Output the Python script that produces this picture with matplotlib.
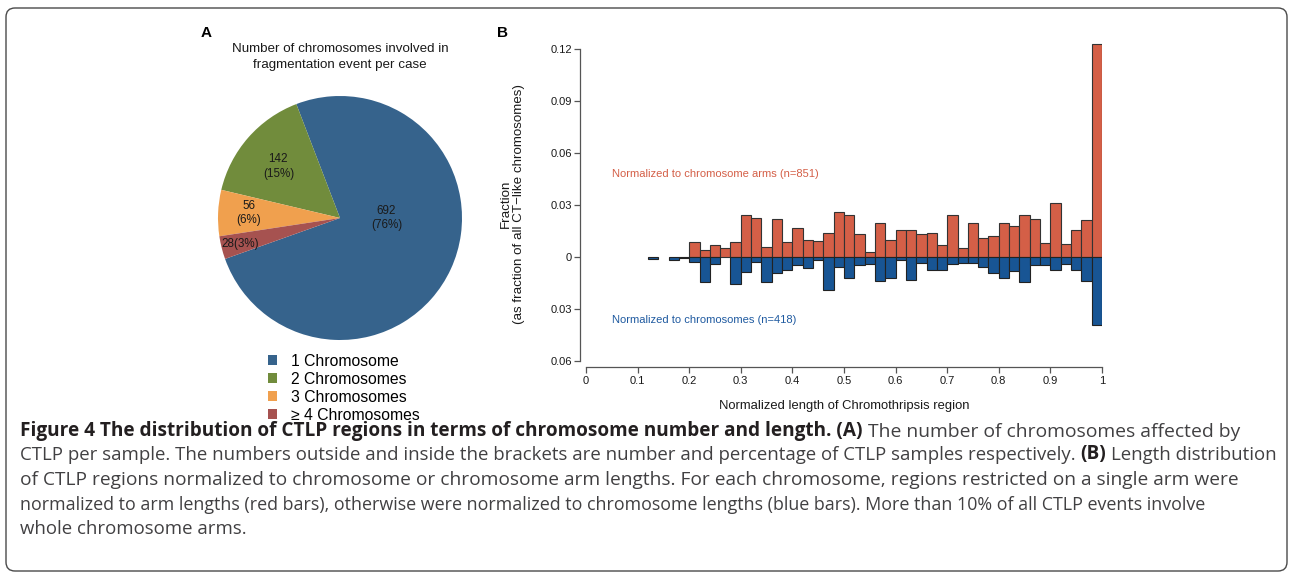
import matplotlib
matplotlib.use('Agg')
import matplotlib.pyplot as plt
import numpy as np
from matplotlib.patches import FancyBboxPatch
from matplotlib.transforms import IdentityTransform
from matplotlib.text import Annotation

plt.rcParams['font.family'] = ['Liberation Sans', 'DejaVu Sans']

# ---------------- Panel A data ----------------
pie_labels = ['1 Chromosome', '2 Chromosomes', '3 Chromosomes', '\u2265 4 Chromosomes']
pie_counts = [692, 142, 56, 28]
pie_pcts = [76, 15, 6, 3]
pie_colors = ['#36638C', '#718C3C', '#F0A04E', '#A65250']

# ---------------- Panel B data ----------------
bin_starts = [0.12, 0.14, 0.16, 0.18,
              0.20, 0.22, 0.24, 0.26, 0.28,
              0.30, 0.32, 0.34, 0.36, 0.38,
              0.40, 0.42, 0.44, 0.46, 0.48,
              0.50, 0.52, 0.54, 0.56, 0.58,
              0.60, 0.62, 0.64, 0.66, 0.68,
              0.70, 0.72, 0.74, 0.76, 0.78,
              0.80, 0.82, 0.84, 0.86, 0.88,
              0.90, 0.92, 0.94, 0.96, 0.98]
arm_frac = [0, 0, 0, 0,
            0.0089, 0.0043, 0.0068, 0.0052, 0.0089,
            0.0242, 0.0225, 0.0058, 0.0217, 0.0089,
            0.0169, 0.0097, 0.0091, 0.0137, 0.0258,
            0.0242, 0.0132, 0.0029, 0.0194, 0.0099,
            0.0153, 0.0153, 0.0130, 0.0140, 0.0068,
            0.0242, 0.0052, 0.0194, 0.0107, 0.0122,
            0.0194, 0.0180, 0.0242, 0.0219, 0.0083,
            0.0312, 0.0076, 0.0153, 0.0211, 0.1230]
chrom_frac = [0.0010, 0, 0.0015, 0.0008,
              0.0027, 0.0144, 0.0041, 0, 0.0155,
              0.0084, 0.0026, 0.0146, 0.0090, 0.0076,
              0.0047, 0.0066, 0.0020, 0.0189, 0.0058,
              0.0124, 0.0049, 0.0041, 0.0140, 0.0124,
              0.0017, 0.0132, 0.0033, 0.0076, 0.0076,
              0.0041, 0.0033, 0.0033, 0.0058, 0.0090,
              0.0124, 0.0082, 0.0146, 0.0049, 0.0049,
              0.0076, 0.0041, 0.0076, 0.0140, 0.0392]
ytick_vals = [-0.06, -0.03, 0, 0.03, 0.06, 0.09, 0.12]
ytick_labels = ['0.06', '0.03', '0', '0.03', '0.06', '0.09', '0.12']
xtick_vals = [0, 0.1, 0.2, 0.3, 0.4, 0.5, 0.6, 0.7, 0.8, 0.9, 1.0]
xtick_labels = ['0', '0.1', '0.2', '0.3', '0.4', '0.5', '0.6', '0.7', '0.8', '0.9', '1']

RED = '#D45F47'
BLUE = '#185594'

W, H = 1292, 576
fig = plt.figure(figsize=(W / 100, H / 100), dpi=100)
fig.patch.set_facecolor('white')

# frame around the whole figure
frame = FancyBboxPatch((6, 5), 1281, 563, boxstyle='round,pad=0,rounding_size=9',
                       transform=IdentityTransform(), facecolor='none',
                       edgecolor='#4a4a4a', linewidth=1.0)
fig.patches.append(frame)

# ---------------- Panel A ----------------
cx, cy, r = 340, 218, 122
ax_pie = fig.add_axes([(cx - r) / W, 1 - (cy + r) / H, 2 * r / W, 2 * r / H])
wedges, _ = ax_pie.pie(pie_counts, colors=pie_colors, startangle=199.6,
                       counterclock=True, wedgeprops=dict(linewidth=0))
ax_pie.set_xlim(-1, 1)
ax_pie.set_ylim(-1, 1)
label_pos = [(0.38, 0.0), (-0.505, 0.423), (-0.75, 0.04), (-0.82, -0.21)]
for i, (cnt, pct) in enumerate(zip(pie_counts, pie_pcts)):
    txt = f'{cnt}({pct}%)' if i == 3 else f'{cnt}\n({pct}%)'
    ax_pie.text(label_pos[i][0], label_pos[i][1], txt, ha='center', va='center',
                fontsize=8.4, color='#1a1a1a', linespacing=1.25)

fig.text(cx / W, 1 - 57 / H, 'Number of chromosomes involved in\nfragmentation event per case',
         ha='center', va='center', fontsize=9.6, linespacing=1.5, color='#1a1a1a')
fig.text(206 / W, 1 - 33 / H, 'A', fontsize=11, fontweight='bold', ha='center', va='center')
fig.text(502 / W, 1 - 33 / H, 'B', fontsize=11, fontweight='bold', ha='center', va='center')

fig.legend(wedges, pie_labels, loc='upper left', bbox_to_anchor=(268 / W, 1 - 353.5 / H),
           frameon=False, fontsize=11.3, handlelength=0.6, handleheight=0.6,
           handletextpad=0.85, labelspacing=0.2, borderpad=0, borderaxespad=0)

# ---------------- Panel B ----------------
y_top = 0.125
px_per_unit = (361 - 49) / 0.18
top_px = 49 - (y_top - 0.12) * px_per_unit
ax = fig.add_axes([586 / W, 1 - 361 / H, 516 / W, (361 - top_px) / H])
arm = np.array(arm_frac)
chrom = np.array(chrom_frac)
ax.bar(bin_starts, arm, width=0.02, align='edge', color=RED, edgecolor='#333333',
       linewidth=[0.8 if v > 0 else 0 for v in arm])
ax.bar(bin_starts, -chrom, width=0.02, align='edge', color=BLUE, edgecolor='#222222',
       linewidth=[0.8 if v > 0 else 0 for v in chrom])
ax.set_xlim(0, 1)
ax.set_ylim(-0.06, y_top)
for s in ['top', 'right']:
    ax.spines[s].set_visible(False)
ax.spines['left'].set_position(('outward', 4.5))
ax.spines['bottom'].set_position(('outward', 4))
ax.spines['left'].set_bounds(-0.06, 0.12)
for s in ['left', 'bottom']:
    ax.spines[s].set_color('#555555')
    ax.spines[s].set_linewidth(0.9)
ax.set_yticks(ytick_vals)
ax.set_yticklabels(ytick_labels)
ax.set_xticks(xtick_vals)
ax.set_xticklabels(xtick_labels)
ax.tick_params(axis='both', length=4, width=0.9, color='#555555', labelsize=8,
               labelcolor='#1a1a1a', pad=2.5)
ax.tick_params(axis='y', pad=1.5)
ax.set_xlabel('Normalized length of Chromothripsis region', fontsize=9.4, color='#1a1a1a', va='center')
ax.xaxis.set_label_coords(0.5, -0.14)
ax.set_ylabel('Fraction\n(as fraction of all CT\u2212like chromosomes)', fontsize=9.6,
              color='#1a1a1a', va='center', linespacing=1.15)
ax.yaxis.set_label_coords(-0.142, 0.49)
ax.text(0.05, 0.048, 'Normalized to chromosome arms (n=851)', color=RED, fontsize=8,
        va='center', ha='left')
ax.text(0.05, -0.0365, 'Normalized to chromosomes (n=418)', color='#1F5AA0', fontsize=8,
        va='center', ha='left')

# ---------------- Caption ----------------
caption_lines = [
    [("Figure 4 The distribution of CTLP regions in terms of chromosome number and length. (A)", True),
     ("The number of chromosomes affected by", False)],
    [("CTLP per sample. The numbers outside and inside the brackets are number and percentage of CTLP samples respectively.", False),
     ("(B)", True), ("Length distribution", False)],
    [("of CTLP regions normalized to chromosome or chromosome arm lengths. For each chromosome, regions restricted on a single arm were", False)],
    [("normalized to arm lengths (red bars), otherwise were normalized to chromosome lengths (blue bars). More than 10% of all CTLP events involve", False)],
    [("whole chromosome arms.", False)],
]
line_widths = [1225, 1256, 1210, 1187, 227]   # layout targets in pixels
cap_font = ['Open Sans', 'DejaVu Sans']
size_bold = 11.3
size_reg = [11.3] * len(caption_lines)
lines_art = []
for li, pieces in enumerate(caption_lines):
    base_y = 436 + li * 24.5
    prev = None
    arts = []
    for txt, bold in pieces:
        col = '#231f20' if bold else '#414042'
        fw = 'bold' if bold else 'normal'
        if prev is None:
            t = fig.text(20 / W, 1 - base_y / H, txt, fontsize=11.3, family=cap_font,
                         fontweight=fw, color=col, ha='left', va='baseline')
        else:
            t = fig.add_artist(Annotation(
                txt, xy=(1, 0), xycoords=prev, xytext=(0.26 * 11.3, 0),
                textcoords='offset points', fontsize=11.3, family=cap_font,
                fontweight=fw, color=col, ha='left', va='bottom'))
        arts.append((t, bold))
        prev = t
    lines_art.append(arts)


def apply_sizes():
    for li, arts in enumerate(lines_art):
        for t, bold in arts:
            t.set_fontsize(size_bold if bold else size_reg[li])
            if isinstance(t, Annotation):
                t.xyann = (0.26 * size_reg[li], 0)


# fit caption sizes to the reference line widths
for _ in range(4):
    fig.canvas.draw()
    rend = fig.canvas.get_renderer()
    wb = lines_art[0][0][0].get_window_extent(rend).width
    size_bold *= 849 / wb
    for li, arts in enumerate(lines_art):
        x0 = arts[0][0].get_window_extent(rend).x0
        x1 = arts[-1][0].get_window_extent(rend).x1
        if li == 0:
            reg = arts[1][0].get_window_extent(rend)
            wr = reg.width
            target = line_widths[0] - (reg.x0 - x0)
            size_reg[li] *= target / wr
        else:
            size_reg[li] *= line_widths[li] / (x1 - x0)
    apply_sizes()

fig.savefig('out.png', dpi=100, facecolor='white')
